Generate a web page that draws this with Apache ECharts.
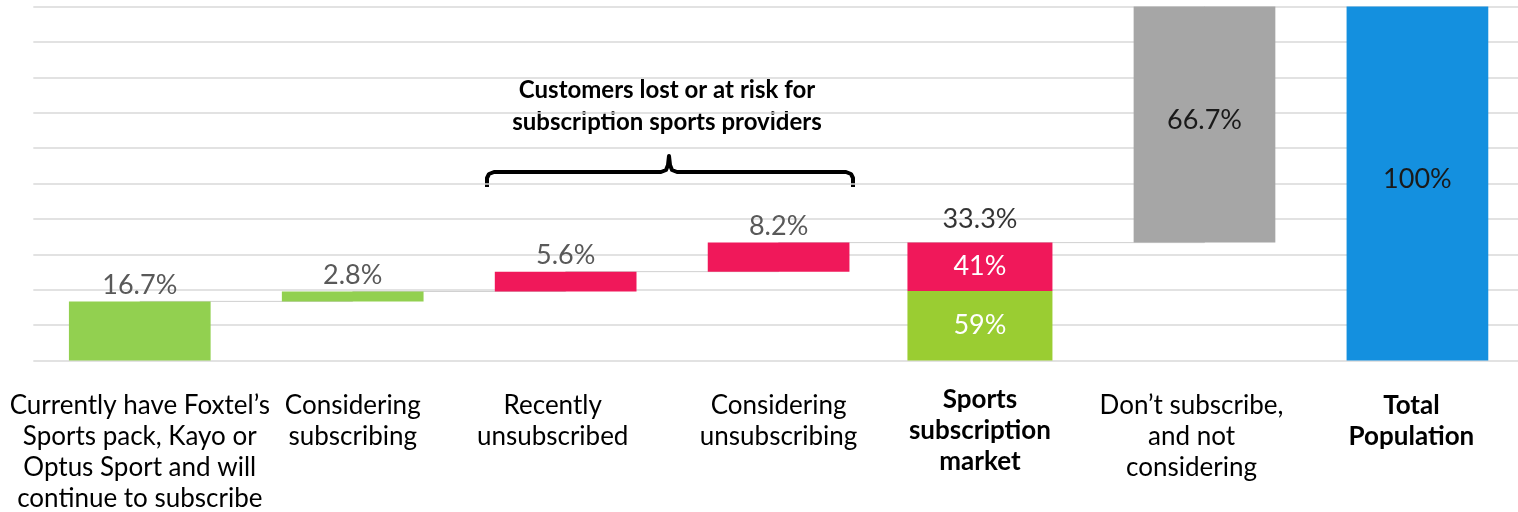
<!DOCTYPE html>
<html>
<head>
<meta charset="utf-8">
<script src="https://cdn.jsdelivr.net/npm/echarts@6/dist/echarts.min.js"></script>
<style>
  html, body { margin: 0; padding: 0; background: #fff; }
  #chart1 { width: 1518px; height: 512px; }
</style>
</head>
<body>
<div id="chart1"></div>
<script>
var FONT = 'Lato, "Noto Sans", sans-serif';

// waterfall steps (percent of population)
var categories = [
    'Currently have Foxtel\u2019s\nSports pack, Kayo or\nOptus Sport and will\ncontinue to subscribe',
    'Considering\nsubscribing',
    'Recently\nunsubscribed',
    'Considering\nunsubscribing',
    'Sports\nsubscription\nmarket',
    'Don\u2019t subscribe,\nand not\nconsidering',
    'Total\nPopulation'
];
var stepValues = [16.7, 2.8, 5.6, 8.2, null, 66.7, 100];
var stepColors = ['#92D050', '#92D050', '#F0185A', '#F0185A', null, '#A6A6A6', '#1490DF'];
var marketIndex = 4;
var marketTotal = 33.3;
var marketShares = [59, 41];   // continuing / lost or at risk
var marketColors = ['#9ACD32', '#F0185A'];

// running totals for the floating bars
var base = [], ends = [];
var run = 0;
for (var i = 0; i < stepValues.length; i++) {
    if (i === marketIndex) { base.push('-'); ends.push(marketTotal); continue; }
    if (i === stepValues.length - 1) run = 0;
    base.push(run);
    run += stepValues[i];
    ends.push(run);
}
var connector = ends.slice(0, 6);

function onlyMarket(v) {
    return categories.map(function (c, i) { return i === marketIndex ? v : '-'; });
}

var mainLabels = categories.map(function (c, i) {
    if (i === marketIndex) return '';
    var item = { value: c, textStyle: {} };
    if (i === 6) item.textStyle.fontWeight = 'bold';
    if (i === 2 || i === 5) item.textStyle.padding = [0, 26, 0, 0];
    if (i === 6) item.textStyle.padding = [0, 12, 0, 0];
    return item;
});
var marketLabels = categories.map(function (c, i) {
    return i === marketIndex ? { value: c, textStyle: { fontWeight: 'bold' } } : '';
});

var dom = document.getElementById('chart1');
var myChart = echarts.init(dom);

var gridTop = 6.5, gridBottom = 151.5, gridWidth = 1490.6;

myChart.setOption({
    animation: false,
    textStyle: { fontFamily: FONT },
    grid: [
        { left: 33.3, top: gridTop, bottom: gridBottom, width: gridWidth, outerBoundsMode: 'none' },
        { left: 21.7, top: gridTop, bottom: gridBottom, width: gridWidth, outerBoundsMode: 'none' }
    ],
    xAxis: [{
        type: 'category',
        gridIndex: 0,
        data: mainLabels,
        axisLine: { show: false },
        axisTick: { show: false },
        axisLabel: {
            interval: 0, margin: 30, fontSize: 26, lineHeight: 31,
            color: '#000', fontFamily: FONT
        }
    }, {
        type: 'category',
        gridIndex: 1,
        data: marketLabels,
        axisLine: { show: false },
        axisTick: { show: false },
        axisLabel: {
            interval: 0, margin: 24, fontSize: 26, lineHeight: 31,
            color: '#000', fontFamily: FONT
        }
    }],
    yAxis: [{
        type: 'value',
        gridIndex: 0,
        min: 0, max: 100, interval: 10,
        axisLabel: { show: false },
        axisLine: { show: false },
        axisTick: { show: false },
        splitLine: { lineStyle: { color: '#D9D9D9', width: 1.5 } }
    }, {
        type: 'value',
        gridIndex: 1,
        min: 0, max: 100, interval: 10,
        show: false
    }],
    series: [{
        name: 'connector',
        type: 'line',
        step: 'end',
        data: connector,
        symbol: 'none',
        z: 1,
        lineStyle: { color: '#D0D0D0', width: 1 }
    }, {
        name: 'base',
        type: 'bar',
        stack: 'w',
        barWidth: 141.7,
        data: base,
        itemStyle: { color: 'transparent' },
        z: 2
    }, {
        name: 'steps',
        type: 'bar',
        stack: 'w',
        barWidth: 141.7,
        z: 2,
        data: stepValues.map(function (v, i) {
            if (v === null) return '-';
            var inside = i >= 5;
            return {
                value: v,
                itemStyle: { color: stepColors[i] },
                label: inside ? {
                    show: true, position: 'inside', offset: [0, -4],
                    color: '#1A1A1A', fontSize: 27
                } : {
                    show: true, position: 'top', distance: 3,
                    color: '#595959', fontSize: 27
                }
            };
        }),
        label: {
            fontFamily: FONT,
            formatter: function (p) { return p.value + '%'; }
        }
    }, {
        name: 'continuing',
        type: 'bar',
        stack: 'm',
        xAxisIndex: 1, yAxisIndex: 1,
        barWidth: 145,
        z: 2,
        data: onlyMarket(marketTotal * marketShares[0] / 100),
        itemStyle: { color: marketColors[0] },
        label: {
            show: true, position: 'inside', color: '#fff', fontSize: 27,
            formatter: marketShares[0] + '%'
        }
    }, {
        name: 'at risk',
        type: 'bar',
        stack: 'm',
        xAxisIndex: 1, yAxisIndex: 1,
        barWidth: 145,
        z: 2,
        data: onlyMarket(marketTotal * marketShares[1] / 100),
        itemStyle: { color: marketColors[1] },
        label: {
            show: true, position: 'inside', color: '#fff', fontSize: 27,
            formatter: marketShares[1] + '%'
        }
    }, {
        name: 'market total',
        type: 'scatter',
        xAxisIndex: 1, yAxisIndex: 1,
        symbolSize: 1,
        z: 3,
        itemStyle: { color: 'transparent' },
        data: onlyMarket(marketTotal),
        label: {
            show: true, position: 'top', distance: 9, color: '#000', fontSize: 27,
            formatter: marketTotal + '%'
        },
        labelLayout: { hideOverlap: false }
    }],
    graphic: [{
        type: 'text',
        x: 667, y: 74,
        style: {
            text: 'Customers lost or at risk for\nsubscription sports providers',
            font: 'bold 24px ' + FONT,
            lineHeight: 32,
            fill: '#000',
            textAlign: 'center'
        }
    }, {
        // curly brace over the two "lost / at risk" steps
        type: 'polyline',
        shape: {
            points: [[487, 187], [487, 178], [489, 174], [494, 172], [661, 172],
                     [666, 170], [668, 165], [669, 156], [670, 165], [672, 170],
                     [677, 172], [846, 172], [851, 174], [853, 178], [853, 187]]
        },
        style: { stroke: '#000', lineWidth: 4, fill: null, lineJoin: 'round' }
    }]
});
</script>
</body>
</html>
